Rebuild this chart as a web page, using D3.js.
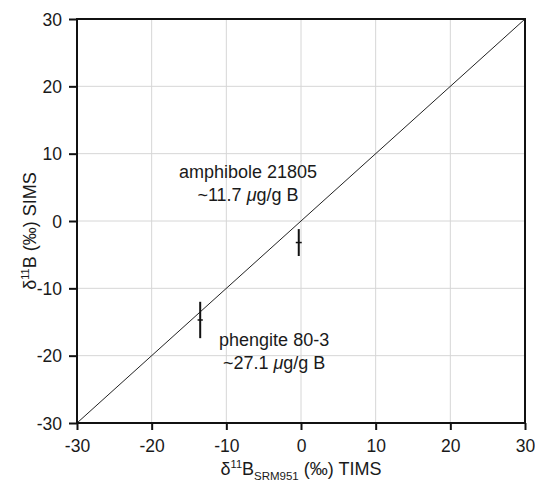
<!DOCTYPE html>
<html>
<head>
<meta charset="utf-8">
<script src="https://cdn.jsdelivr.net/npm/d3@7"></script>
<style>
  body { margin: 0; background: #fff; }
  text { font-family: "Liberation Sans", Arial, sans-serif; fill: #1a1a1a; }
</style>
</head>
<body>
<svg></svg>
<script>
const width = 535;
const height = 483;

// data
const ticks = [-30, -20, -10, 0, 10, 20, 30];
const samples = ["amphibole 21805", "phengite 80-3"];
const concs = ["~11.7 ", "~27.1 "];
const tims = [-0.3, -13.5];
const timsErr = [0.4, 0.35];
const sims = [-3.2, -14.7];
const simsErr = [2.0, 2.7];
const labelPos = [[-7.1, 6.4], [-3.6, -18.6]]; // label anchor in data units

const svg = d3.select("svg").attr("width", width).attr("height", height);

const x = d3.scaleLinear().domain([-30, 30]).range([77, 525]);
const y = d3.scaleLinear().domain([-30, 30]).range([423, 19]);

// grid
svg.append("g").selectAll("line").data(ticks.slice(1, -1)).enter().append("line")
  .attr("x1", d => x(d)).attr("x2", d => x(d)).attr("y1", y(-30)).attr("y2", y(30))
  .attr("stroke", "#d6d6d6").attr("stroke-width", 1);
svg.append("g").selectAll("line").data(ticks.slice(1, -1)).enter().append("line")
  .attr("y1", d => y(d)).attr("y2", d => y(d)).attr("x1", x(-30)).attr("x2", x(30))
  .attr("stroke", "#d6d6d6").attr("stroke-width", 1);

// 1:1 line
svg.append("line")
  .attr("x1", x(-30)).attr("y1", y(-30)).attr("x2", x(30)).attr("y2", y(30))
  .attr("stroke", "#222").attr("stroke-width", 1);

// axes
const fmt = d => String(d);
const xAxis = svg.append("g").attr("transform", `translate(0,${y(-30)})`)
  .call(d3.axisBottom(x).tickValues(ticks).tickFormat(fmt).tickSize(7).tickPadding(4));
const yAxis = svg.append("g").attr("transform", `translate(${x(-30)},0)`)
  .call(d3.axisLeft(y).tickValues(ticks).tickFormat(fmt).tickSize(8).tickPadding(7));
[xAxis, yAxis].forEach(a => {
  a.select(".domain").remove();
  a.selectAll(".tick line").attr("stroke", "#111").attr("stroke-width", 2);
  a.selectAll(".tick text").style("font-size", "17.5px").attr("fill", "#1a1a1a");
});
xAxis.selectAll(".tick text").attr("dy", "1.05em");
yAxis.selectAll(".tick text").attr("dy", "0.36em");

// frame
svg.append("rect")
  .attr("x", x(-30)).attr("y", y(30))
  .attr("width", x(30) - x(-30)).attr("height", y(-30) - y(30))
  .attr("fill", "none").attr("stroke", "#111").attr("stroke-width", 2);

// error bars
const pts = svg.append("g").selectAll("g").data(tims).enter().append("g");
pts.append("line")
  .attr("x1", d => x(d)).attr("x2", d => x(d))
  .attr("y1", (d, i) => y(sims[i] + simsErr[i])).attr("y2", (d, i) => y(sims[i] - simsErr[i]))
  .attr("stroke", "#111").attr("stroke-width", 2);
pts.append("line")
  .attr("x1", (d, i) => x(d - timsErr[i])).attr("x2", (d, i) => x(d + timsErr[i]))
  .attr("y1", (d, i) => y(sims[i])).attr("y2", (d, i) => y(sims[i]))
  .attr("stroke", "#111").attr("stroke-width", 1.5);

// labels
samples.forEach((s, i) => {
  const lx = x(labelPos[i][0]);
  const t = svg.append("text")
    .attr("x", lx).attr("y", y(labelPos[i][1]))
    .attr("text-anchor", "middle").style("font-size", "18px");
  t.append("tspan").attr("x", lx).text(s);
  const t2 = t.append("tspan").attr("x", lx).attr("dy", 23);
  t2.append("tspan").text(concs[i]);
  t2.append("tspan").style("font-style", "italic").text("μ");
  t2.append("tspan").text("g/g B");
});

// axis titles
const xt = svg.append("text")
  .attr("x", x(0)).attr("y", 475)
  .attr("text-anchor", "middle").style("font-size", "18px");
xt.append("tspan").text("δ");
xt.append("tspan").attr("dy", -7).style("font-size", "11px").text("11");
xt.append("tspan").attr("dy", 7).text("B");
xt.append("tspan").attr("dy", 5).style("font-size", "11.5px").text("SRM951");
xt.append("tspan").attr("dy", -5).text(" (‰) TIMS");

const yt = svg.append("text")
  .attr("transform", `translate(36,231) rotate(-90)`)
  .attr("text-anchor", "middle").style("font-size", "18px");
yt.append("tspan").text("δ");
yt.append("tspan").attr("dy", -7).style("font-size", "11px").text("11");
yt.append("tspan").attr("dy", 7).text("B (‰) SIMS");
</script>
</body>
</html>
